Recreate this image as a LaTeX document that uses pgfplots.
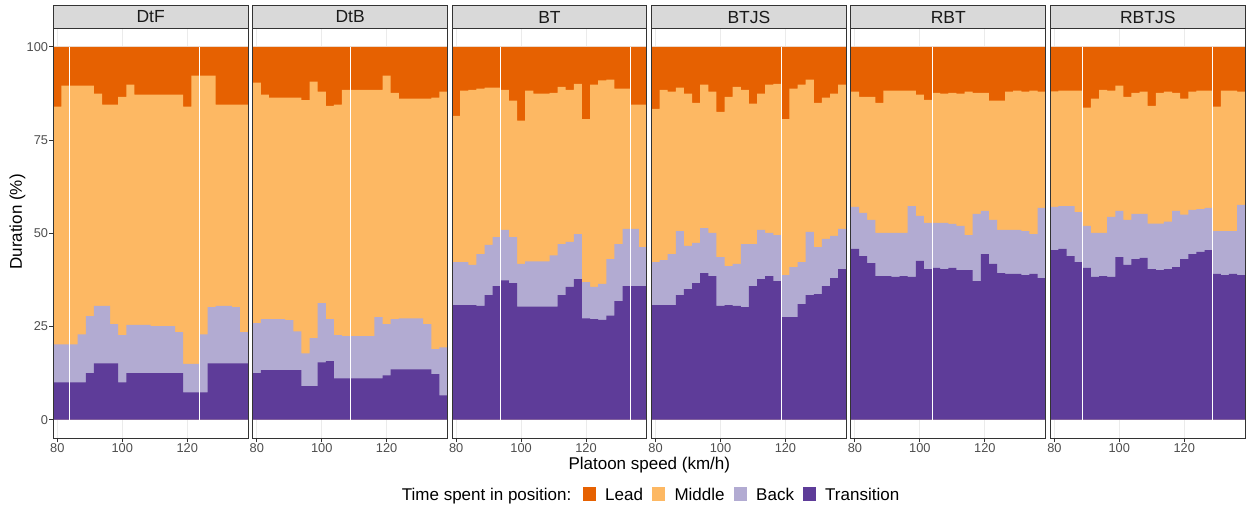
\documentclass[border=0pt]{standalone}
\usepackage{pgfplots}
\pgfplotsset{compat=1.18}
\usepackage{pgfplotstable}
\usepackage{fontspec}
\setmainfont{Liberation Sans}

\definecolor{lead}{HTML}{E66101}
\definecolor{mid}{HTML}{FDB863}
\definecolor{back}{HTML}{B2ABD2}
\definecolor{trans}{HTML}{5E3C99}
\definecolor{gridc}{HTML}{EBEBEB}
\definecolor{frame}{HTML}{333333}
\definecolor{ticklab}{HTML}{4D4D4D}
\definecolor{stripc}{HTML}{D9D9D9}
\definecolor{striptext}{HTML}{1A1A1A}

\newcommand\fs[1]{\fontsize{#1}{#1}\selectfont}

% x = left edge of 2.5 km/h speed bin; T, B, M = cumulative top of Transition, Back, Middle (%); Lead fills up to 100
\pgfplotstableread{
x T B M
78.75 10.0 20.2 84.0
81.25 10.0 20.2 89.6
83.75 10.0 20.2 89.6
86.25 10.0 22.9 89.6
88.75 12.5 27.8 89.6
91.25 15.1 30.5 87.5
93.75 15.1 30.5 84.5
96.25 15.1 25.6 84.5
98.75 10.0 22.7 86.6
101.25 12.5 25.4 89.9
103.75 12.5 25.4 87.2
106.25 12.5 25.4 87.2
108.75 12.5 25.1 87.2
111.25 12.5 25.1 87.2
113.75 12.5 25.1 87.2
116.25 12.5 23.5 87.2
118.75 7.3 15.0 84.0
121.25 7.3 15.0 92.3
123.75 7.3 22.9 92.3
126.25 15.1 30.2 92.3
128.75 15.1 30.5 84.5
131.25 15.1 30.5 84.5
133.75 15.1 30.2 84.5
136.25 15.1 23.5 84.5
138.75 15.1 23.5 84.5
}\dtf

\pgfplotstableread{
x T B M
78.75 12.5 25.9 90.4
81.25 13.3 27.0 87.2
83.75 13.3 27.0 86.4
86.25 13.3 27.0 86.4
88.75 13.3 26.7 86.4
91.25 13.3 23.7 86.4
93.75 9.0 17.8 85.7
96.25 9.0 21.9 90.7
98.75 15.4 31.3 88.0
101.25 15.7 27.0 84.2
103.75 11.1 22.7 84.5
106.25 11.1 22.4 88.5
108.75 11.1 22.4 88.5
111.25 11.1 22.4 88.5
113.75 11.1 22.4 88.5
116.25 11.1 27.5 88.5
118.75 11.9 25.6 92.3
121.25 13.5 27.0 87.7
123.75 13.5 27.2 86.1
126.25 13.5 27.2 86.1
128.75 13.5 27.2 86.1
131.25 13.5 25.6 86.1
133.75 12.2 18.9 86.4
136.25 6.5 19.4 88.0
138.75 6.5 19.4 88.0
}\dtb

\pgfplotstableread{
x T B M
78.75 30.7 42.3 81.5
81.25 30.7 42.3 88.3
83.75 30.7 41.5 88.5
86.25 30.5 44.4 88.8
88.75 33.4 46.9 89.1
91.25 35.8 49.0 89.1
93.75 37.4 50.9 88.5
96.25 36.6 49.0 85.6
98.75 30.3 41.8 80.2
101.25 30.3 42.5 88.3
103.75 30.3 42.5 87.5
106.25 30.3 42.5 87.5
108.75 30.3 44.1 87.7
111.25 33.4 47.1 89.3
113.75 35.6 47.7 88.5
116.25 37.7 49.8 90.1
118.75 27.2 36.9 80.6
121.25 27.0 35.6 89.9
123.75 26.8 36.4 91.0
126.25 27.9 43.1 91.2
128.75 31.8 47.1 88.8
131.25 35.8 51.2 88.8
133.75 35.8 51.2 84.5
136.25 35.8 46.3 84.5
138.75 35.8 46.3 84.5
}\bt

\pgfplotstableread{
x T B M
78.75 30.7 42.3 83.4
81.25 30.7 42.8 88.5
83.75 30.7 44.4 88.0
86.25 33.4 50.6 89.1
88.75 35.0 46.6 87.5
91.25 36.6 47.4 85.0
93.75 39.3 51.4 89.9
96.25 38.5 50.1 88.0
98.75 30.5 43.6 82.6
101.25 30.7 41.2 86.6
103.75 30.5 41.8 89.3
106.25 30.2 47.1 88.5
108.75 35.8 47.1 84.8
111.25 37.7 50.9 87.5
113.75 38.5 50.1 89.9
116.25 37.2 49.5 90.1
118.75 27.5 38.8 80.6
121.25 27.5 40.9 88.8
123.75 31.0 42.3 89.9
126.25 33.4 50.4 91.2
128.75 33.7 46.3 85.0
131.25 35.8 48.5 86.4
133.75 38.0 49.3 87.5
136.25 40.4 51.2 89.9
138.75 40.4 51.2 89.9
}\btjs

\pgfplotstableread{
x T B M
78.75 45.8 57.1 88.0
81.25 43.9 55.5 86.6
83.75 42.0 53.6 86.6
86.25 38.5 50.1 85.0
88.75 38.5 50.1 88.3
91.25 38.3 50.1 88.3
93.75 38.5 50.1 88.3
96.25 38.3 57.3 88.3
98.75 42.6 54.7 87.2
101.25 40.4 52.8 85.8
103.75 40.7 52.8 87.7
106.25 40.4 52.8 87.5
108.75 40.7 52.5 87.7
111.25 40.1 52.0 87.5
113.75 40.1 49.5 88.0
116.25 37.2 55.2 87.7
118.75 44.4 56.0 87.7
121.25 41.8 53.6 85.6
123.75 39.3 50.9 85.6
126.25 39.1 50.9 88.0
128.75 39.1 50.9 88.3
131.25 38.8 50.6 88.0
133.75 39.1 49.8 88.3
136.25 38.0 56.8 88.0
138.75 38.0 56.8 88.0
}\rbt

\pgfplotstableread{
x T B M
78.75 45.5 57.1 88.1
81.25 45.8 57.3 88.3
83.75 43.9 57.3 88.3
86.25 42.3 55.7 88.3
88.75 40.7 52.0 83.7
91.25 38.3 50.1 86.1
93.75 38.5 50.1 88.5
96.25 38.3 54.4 88.3
98.75 43.6 56.0 89.6
101.25 41.5 53.6 86.6
103.75 43.1 55.2 87.7
106.25 43.4 55.2 88.0
108.75 40.4 52.6 84.2
111.25 40.1 52.6 87.7
113.75 40.4 53.1 88.0
116.25 40.9 56.0 87.7
118.75 43.1 55.0 86.1
121.25 44.4 56.3 88.0
123.75 45.0 56.5 88.3
126.25 45.5 56.8 88.3
128.75 39.1 50.6 84.0
131.25 38.8 50.6 88.3
133.75 39.1 50.6 88.3
136.25 38.8 57.6 88.0
138.75 38.8 57.6 88.0
}\rbtjs

\pgfplotsset{
  panel/.style={
    scale only axis, width=194.8pt, height=410pt,
    xmin=78.75, xmax=138.75, ymin=-5, ymax=105,
    xtick={80,100,120}, ytick={0,25,50,75,100},
    grid=major, major grid style={draw=gridc, line width=1pt},
    axis line style={draw=none},
    tick align=outside, major tick length=4pt,
    tick style={draw=frame, line width=1pt},
    tick pos=left,
    ticklabel style={font=\fs{12.8}, text=ticklab, inner sep=1pt},
    /pgf/number format/assume math mode=true,
    clip=false,
  },
  noy/.style={yticklabels={}, ytick style={draw=none}},
}

\newcommand{\panel}[5]{%
\begin{axis}[panel, at={(53.3pt+#1*199.4pt,68.7pt)}, anchor=south west, name=ax#1, #4]
\addplot[const plot, fill=lead, draw=none] table[x=x, y expr=100] {#2} \closedcycle;
\addplot[const plot, fill=mid, draw=none] table[x=x, y=M] {#2} \closedcycle;
\addplot[const plot, fill=back, draw=none] table[x=x, y=B] {#2} \closedcycle;
\addplot[const plot, fill=trans, draw=none] table[x=x, y=T] {#2} \closedcycle;
\pgfplotsinvokeforeach{#5}{\addplot[draw=white, line width=0.9pt] coordinates {(##1,0) (##1,100)};}
\draw[frame, line width=1.1pt] (rel axis cs:0,0) rectangle (rel axis cs:1,1);
\end{axis}
\draw[frame, fill=stripc, line width=1.1pt] (ax#1.north west) rectangle ([yshift=22.6pt]ax#1.north east);
\node[font=\fs{17.5}, text=striptext] at ([yshift=11.3pt]ax#1.north) {#3};
}

\begin{document}
\begin{tikzpicture}
\useasboundingbox (0,0) rectangle (1249pt,507pt);
\panel{0}{\dtf}{DtF}{}{83.75,123.75}
\panel{1}{\dtb}{DtB}{noy}{108.75}
\panel{2}{\bt}{BT}{noy}{93.75,133.75}
\panel{3}{\btjs}{BTJS}{noy}{118.75}
\panel{4}{\rbt}{RBT}{noy}{103.75}
\panel{5}{\rbtjs}{RBTJS}{noy}{88.75,128.75}

\node[font=\fs{17}] at (649.3pt,42pt) {Platoon speed (km/h)};
\node[font=\fs{17}, rotate=90] at (17.5pt,285pt) {Duration (\%)};

% legend
\node[font=\fs{17}, anchor=base west, inner sep=0pt] at (401.7pt,6.9pt) {Time spent in position:};
\fill[lead]  (583.3pt,6.3pt) rectangle ++(12.7pt,13.4pt);
\node[font=\fs{17}, anchor=base west, inner sep=0pt] at (605pt,6.9pt) {Lead};
\fill[mid]   (652.3pt,6.3pt) rectangle ++(12.7pt,13.4pt);
\node[font=\fs{17}, anchor=base west, inner sep=0pt] at (674.3pt,6.9pt) {Middle};
\fill[back]  (734.3pt,6.3pt) rectangle ++(12.7pt,13.4pt);
\node[font=\fs{17}, anchor=base west, inner sep=0pt] at (756pt,6.9pt) {Back};
\fill[trans] (803.3pt,6.3pt) rectangle ++(12.7pt,13.4pt);
\node[font=\fs{17}, anchor=base west, inner sep=0pt] at (825pt,6.9pt) {Transition};
\end{tikzpicture}
\end{document}
